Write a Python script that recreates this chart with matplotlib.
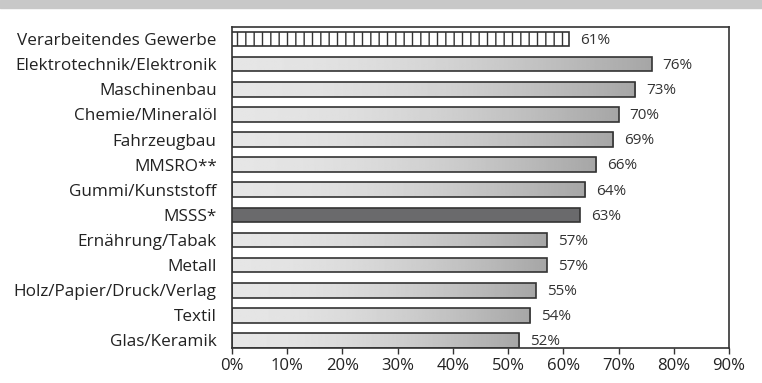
import matplotlib
matplotlib.use("Agg")
import matplotlib.pyplot as plt
import numpy as np
from matplotlib.patches import Rectangle

# data
branchen = ["Verarbeitendes Gewerbe", "Elektrotechnik/Elektronik", "Maschinenbau",
            "Chemie/Mineralöl", "Fahrzeugbau", "MMSRO**", "Gummi/Kunststoff",
            "MSSS*", "Ernährung/Tabak", "Metall", "Holz/Papier/Druck/Verlag",
            "Textil", "Glas/Keramik"]
anteil = [61, 76, 73, 70, 69, 66, 64, 63, 57, 57, 55, 54, 52]
xticks = [0, 10, 20, 30, 40, 50, 60, 70, 80, 90]

plt.rcParams['font.family'] = ['Open Sans', 'DejaVu Sans']
plt.rcParams['hatch.color'] = "#333333"
plt.rcParams['hatch.linewidth'] = 1.0

fig = plt.figure(figsize=(7.62, 3.83), dpi=100)
# grey band on top
fig.patches.append(Rectangle((0, 0.98), 1, 0.02, transform=fig.transFigure,
                             color="#c8c8c8", zorder=0))
ax = fig.add_axes([232/762, 1-348/383, 497/762, 321/383])

h = 0.58
y = np.arange(len(branchen))
grad = np.linspace(0, 1, 256)
grad = 0.90 - 0.25*grad**1.8
grad = grad[np.newaxis, :]

for i, v in enumerate(anteil):
    name = branchen[i]
    if name == "Verarbeitendes Gewerbe":
        ax.barh(i, v, height=h, color="white", edgecolor="#333333", linewidth=1.2,
                hatch="||", zorder=3)
    elif name == "MSSS*":
        ax.barh(i, v, height=h, color="#6a6a6c", edgecolor="#333333", linewidth=1.2, zorder=3)
    else:
        im = ax.imshow(grad, cmap="gray", vmin=0, vmax=1, aspect="auto",
                       extent=(0, v, i + h/2, i - h/2), zorder=2)
        b = ax.barh(i, v, height=h, color="none", edgecolor="#333333", linewidth=1.2, zorder=3)
        im.set_clip_path(b[0])
    ax.text(v + 2.0, i + 0.05, f"{v}%", va="center", ha="left", fontsize=11, color="#333333")

ax.set_xlim(0, 90)
ax.set_ylim(12.3, -0.48)
ax.set_yticks(y)
ax.set_yticklabels(branchen, fontsize=12.3, color="#222222")
ax.tick_params(axis="y", length=0, pad=11)
ax.set_xticks(xticks)
ax.set_xticklabels([f"{t}%" for t in xticks], fontsize=12, color="#222222")
ax.tick_params(axis="x", length=4, width=1, color="#333333", pad=3)
for s in ax.spines.values():
    s.set_color("#333333")
    s.set_linewidth(1.2)

fig.savefig("out.png", dpi=100)
